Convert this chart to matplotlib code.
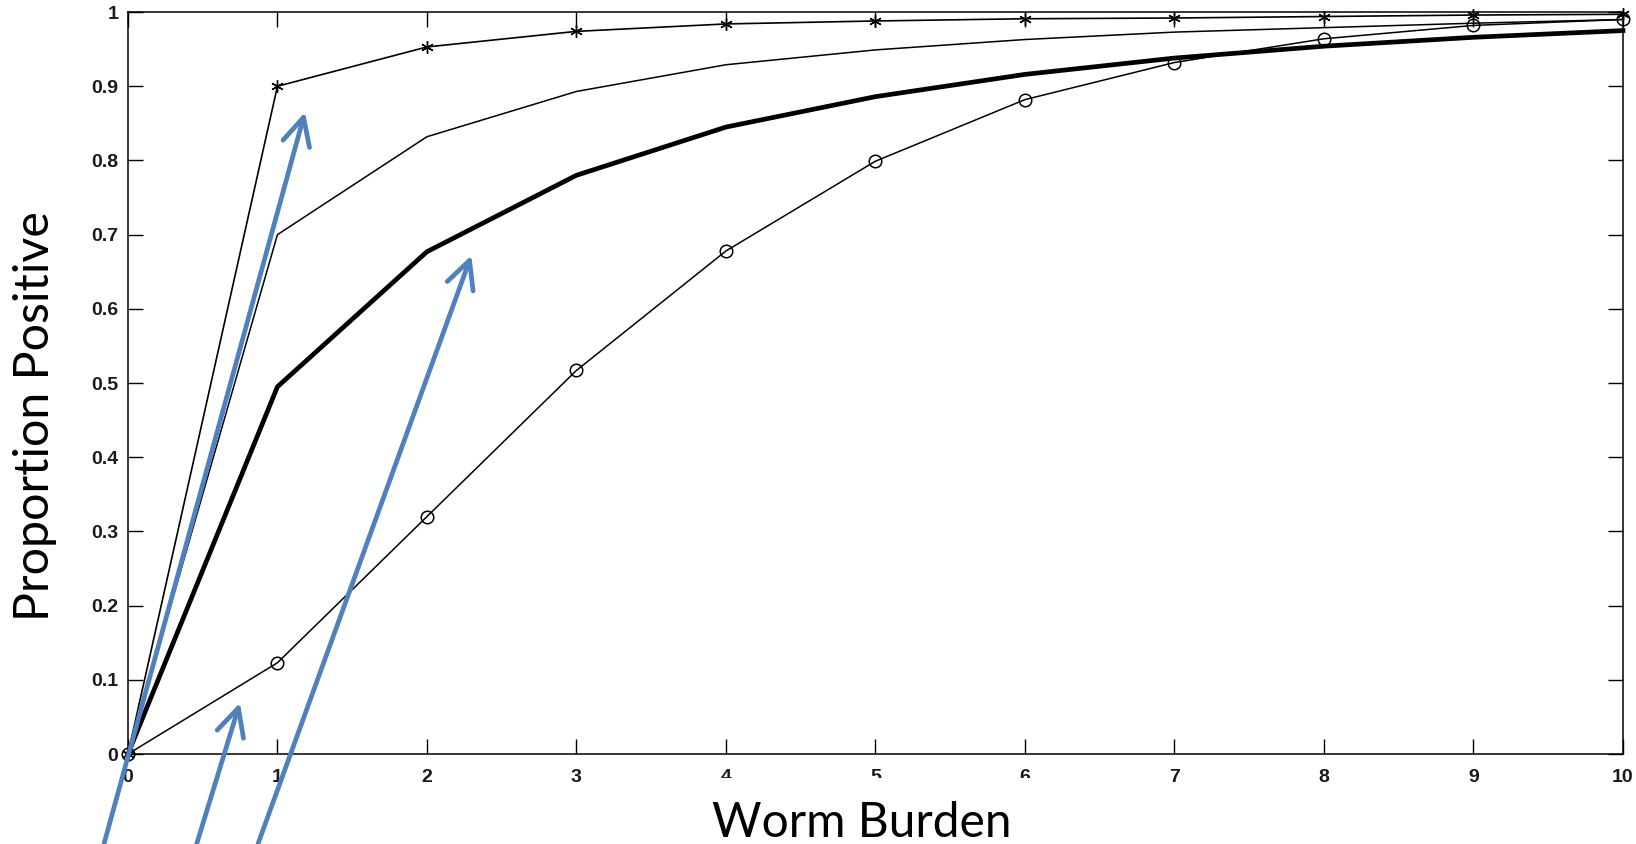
import numpy as np
import matplotlib.pyplot as plt
from matplotlib.patches import Rectangle

# worm burden vs proportion positive, four curves
burden = np.arange(0, 11)
p_star = [0, 0.900, 0.953, 0.974, 0.984, 0.988, 0.991, 0.992, 0.994, 0.996, 0.997]
p_thin = [0, 0.700, 0.832, 0.893, 0.929, 0.949, 0.963, 0.973, 0.979, 0.985, 0.990]
p_thick = [0, 0.495, 0.677, 0.780, 0.845, 0.886, 0.916, 0.938, 0.954, 0.966, 0.975]
p_circ = [0, 0.123, 0.320, 0.517, 0.678, 0.799, 0.882, 0.932, 0.964, 0.982, 0.990]

xticks = list(range(0, 11))
yticks = [0, 0.1, 0.2, 0.3, 0.4, 0.5, 0.6, 0.7, 0.8, 0.9, 1]
ytick_labels = ["0", "0.1", "0.2", "0.3", "0.4", "0.5", "0.6", "0.7", "0.8", "0.9", "1"]

# arrow (head, tail) pairs in data units
arrows = [((1.184, 0.865), (-0.16, -0.121)),
          ((0.749, 0.069), (0.46, -0.121)),
          ((2.297, 0.672), (0.87, -0.121))]

fig = plt.figure(figsize=(16.36, 8.44), dpi=100)
ax = fig.add_axes([0.0782, 0.1066, 0.9138, 0.8791])

ax.plot(burden, p_star, color="black", lw=1.2,
        marker=(6, 2, 0), ms=9, mew=1.0, clip_on=False)
ax.plot(burden, p_thin, color="black", lw=1.1, clip_on=False)
ax.plot(burden, p_thick, color="black", lw=3.4, clip_on=False)
ax.plot(burden, p_circ, color="black", lw=1.1, marker="o", ms=9,
        mfc="none", mew=1.1, clip_on=False)

ax.set_xlim(0, 10)
ax.set_ylim(0, 1)
ax.set_xticks(xticks)
ax.set_yticks(yticks)
ax.set_yticklabels(ytick_labels)
ax.tick_params(direction="in", length=11, width=1, top=True, right=True,
               labelsize=14, pad=7)
ax.tick_params(axis="x", pad=11)
for lab in ax.get_xticklabels() + ax.get_yticklabels():
    lab.set_fontfamily("Liberation Sans")
    lab.set_fontweight("bold")
    lab.set_color("#1a1a1a")
for sp in ax.spines.values():
    sp.set_linewidth(1.1)

for head, tail in arrows:
    ax.annotate("", xy=head, xytext=tail, annotation_clip=False,
                arrowprops=dict(arrowstyle="->,head_length=0.9,head_width=0.45",
                                color="#4F81BD", lw=3.4, mutation_scale=22,
                                shrinkA=0, shrinkB=0))

# white text box of the slide hides part of the middle tick labels
fig.patches.append(Rectangle((640 / 1636, 0), 460 / 1636, (844 - 778) / 844,
                             transform=fig.transFigure, facecolor="white",
                             edgecolor="none", zorder=2))

fig.text(0.5266, 0.0083, "Worm Burden", ha="center", va="baseline",
         fontsize=34.5, family="Lato", zorder=3)
fig.text(0.0215, 0.507, "Proportion Positive", ha="center", va="center",
         rotation=90, fontsize=34.8, family="Lato", zorder=3)

fig.savefig("out.png", dpi=100)
